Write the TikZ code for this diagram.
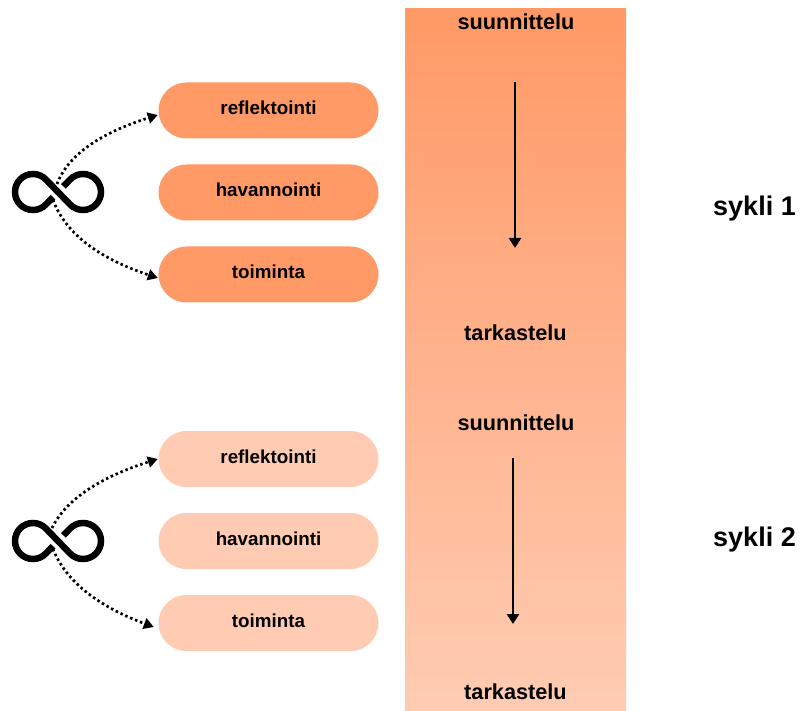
\documentclass[tikz,border=0pt]{standalone}
\usepackage{fontspec}
\setmainfont{Liberation Sans}
\usetikzlibrary{arrows.meta,shapes.misc}
\definecolor{topc}{HTML}{FF9966}
\definecolor{botc}{HTML}{FFCCB3}
\tikzset{
  pill/.style={rounded rectangle,minimum width=220pt,minimum height=56pt,inner sep=0pt,text height=10pt,text depth=1pt,font=\bfseries\fontsize{18.8}{22}\selectfont,text=black},
  lbl/.style={font=\bfseries\fontsize{21.7}{24}\selectfont,inner sep=0pt},
  cyc/.style={font=\bfseries\fontsize{27}{30}\selectfont,inner sep=0pt},
  dots/.style={line width=2.7pt,dash pattern=on 2.5pt off 2.8pt,-{Triangle[length=10pt,width=11pt]}},
  flow/.style={line width=2.7pt,-{Triangle[length=10pt,width=12pt]}},
  inf/.style={line width=6.5pt,line cap=butt}
}
\newcommand{\lemni}[2]{%
  \begin{scope}[shift={(#1,#2)}]
    \draw[inf] (5.4,-5.6) -- (12.1,-12.5)
       .. controls (15.5,-16) and (20.1,-18) .. (25,-18)
       .. controls (34.94,-18) and (43,-9.94) .. (43,0)
       .. controls (43,9.94) and (34.94,18) .. (25,18)
       .. controls (20.1,18) and (15.5,16) .. (12.1,12.5)
       -- (-12.1,-12.5)
       .. controls (-15.5,-16) and (-20.1,-18) .. (-25,-18)
       .. controls (-34.94,-18) and (-43,-9.94) .. (-43,0)
       .. controls (-43,9.94) and (-34.94,18) .. (-25,18)
       .. controls (-20.1,18) and (-15.5,16) .. (-12.1,12.5)
       -- (-5,5.2);
  \end{scope}}
\begin{document}
\begin{tikzpicture}[x=1pt,y=-1pt]
\useasboundingbox (0,0) rectangle (803,711);
\fill[white] (0,0) rectangle (803,711);
\shade[top color=topc,bottom color=botc] (405,8.5) rectangle (626,711);
\node[pill,fill=topc] (r1) at (268.5,110.5) {reflektointi};
\node[pill,fill=topc] (h1) at (268.5,192.5) {havannointi};
\node[pill,fill=topc] (t1) at (268.5,274.5) {toiminta};
\node[pill,fill=botc,text height=9pt] (r2) at (268.5,459) {reflektointi};
\node[pill,fill=botc,text height=9pt] (h2) at (268.5,541) {havannointi};
\node[pill,fill=botc,text height=9pt] (t2) at (268.5,623) {toiminta};
\node[lbl] (s1) at (516,22) {suunnittelu};
\node[lbl] (k1) at (515.5,333) {tarkastelu};
\node[lbl] (s2) at (516,423) {suunnittelu};
\node[lbl] (k2) at (515.5,692) {tarkastelu};
\node[cyc] (c1) at (754.5,209) {sykli 1};
\node[cyc] (c2) at (754.5,540) {sykli 2};
\lemni{58}{192}
\lemni{58}{541}
\coordinate (o1u) at (57,184);
\coordinate (o1d) at (53,200);
\coordinate (o2u) at (52,528);
\coordinate (o2d) at (53,549);
\coordinate (a1s) at (515,82);
\coordinate (a1e) at (515,248);
\coordinate (a2s) at (513,458);
\coordinate (a2e) at (513,624);
\draw[dots] (o1u) .. controls (70,150) and (110,130) .. ([xshift=-0.5pt,yshift=-4.5pt]r1.west);
\draw[dots] (o1d) .. controls (68,240) and (110,262) .. ([xshift=-0.5pt,yshift=-3.5pt]t1.west);
\draw[dots] (o2u) .. controls (68,495) and (110,474) .. ([xshift=-0.5pt]r2.west);
\draw[dots] (o2d) .. controls (68,587) and (108,610) .. ([xshift=-4.5pt,yshift=-4pt]t2.west);
\draw[flow] (a1s) -- (a1e);
\draw[flow] (a2s) -- (a2e);
\end{tikzpicture}
\end{document}
